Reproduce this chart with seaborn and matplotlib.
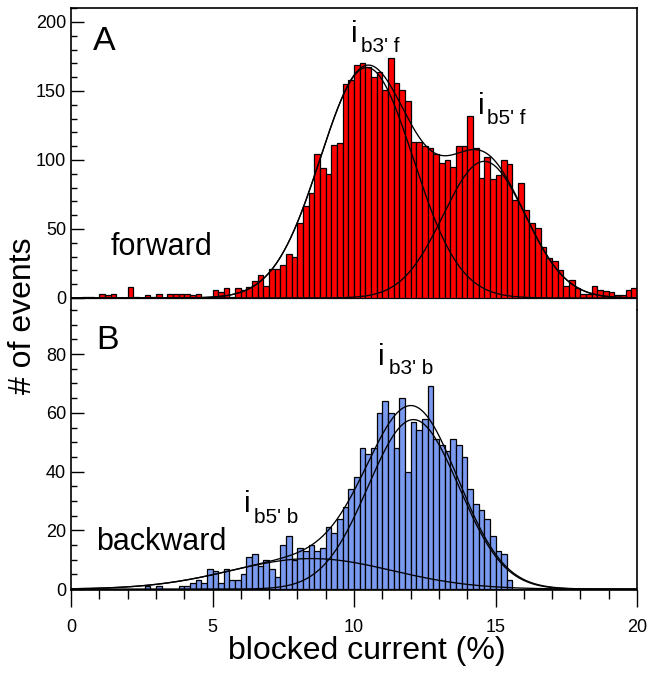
import numpy as np
import pandas as pd
import matplotlib
matplotlib.use("Agg")
import matplotlib.pyplot as plt
import seaborn as sns
from matplotlib.ticker import MultipleLocator

# ---------------- data ----------------
bin_width = 0.2
bin_left = [round(i * bin_width, 1) for i in range(100)]

forward_counts = [
    0, 0, 1, 1, 0, 3, 2, 3, 0, 0,          # 0.0 - 1.8
    8, 1, 0, 2, 1, 3, 0, 3, 3, 3,          # 2.0 - 3.8
    3, 2, 3, 0, 1, 6, 4, 7, 1, 7,          # 4.0 - 5.8
    6, 8, 12, 17, 9, 21, 21, 24, 32, 30,   # 6.0 - 7.8
    54, 67, 76, 104, 94, 90, 111, 112, 155, 158,   # 8.0 - 9.8
    169, 170, 167, 160, 164, 151, 174, 156, 151, 143,  # 10.0 - 11.8
    113, 113, 110, 109, 104, 98, 100, 95, 110, 110,    # 12.0 - 13.8
    132, 109, 87, 102, 86, 89, 100, 97, 71, 83,        # 14.0 - 15.8
    64, 54, 51, 37, 29, 27, 20, 9, 13, 7,              # 16.0 - 17.8
    3, 3, 9, 6, 5, 4, 2, 2, 6, 7,                      # 18.0 - 19.8
]

backward_counts = [
    0, 0, 0, 0, 0, 0, 0, 0, 0, 0,          # 0.0 - 1.8
    0, 0, 0, 1, 0, 1, 0, 0, 0, 1,          # 2.0 - 3.8
    1, 2, 3, 2, 7, 6, 2, 7, 3, 3,          # 4.0 - 5.8
    5, 11, 12, 8, 10, 7, 4, 15, 18, 10,    # 6.0 - 7.8
    14, 13, 15, 13, 14, 21, 19, 24, 28, 34,  # 8.0 - 9.8
    38, 48, 46, 48, 60, 64, 60, 48, 65, 40,  # 10.0 - 11.8
    57, 54, 58, 69, 51, 49, 47, 51, 49, 45,  # 12.0 - 13.8
    34, 29, 27, 24, 18, 13, 12, 3, 0, 0,     # 14.0 - 15.8
    0, 0, 0, 0, 0, 0, 0, 0, 0, 0,            # 16.0 - 17.8
    0, 0, 0, 0, 0, 0, 0, 0, 0, 0,            # 18.0 - 19.8
]

# Gaussian fit components (mean, sigma, amplitude)
fit_forward_means = [10.45, 14.6]
fit_forward_sigmas = [1.64, 1.45]
fit_forward_amps = [167.0, 99.0]

fit_backward_means = [12.1, 8.5]
fit_backward_sigmas = [1.6, 2.85]
fit_backward_amps = [57.7, 10.4]

x_ticks = [0, 5, 10, 15, 20]
forward_yticks = [0, 50, 100, 150, 200]
backward_yticks = [0, 20, 40, 60, 80]

# ---------------- style ----------------
sns.set_style("ticks")
plt.rcParams['font.family'] = ['Liberation Sans', 'DejaVu Sans']
for key in ("text.color", "axes.labelcolor", "xtick.color", "ytick.color", "axes.edgecolor"):
    plt.rcParams[key] = "black"

W, H = 648, 675
fig = plt.figure(figsize=(W / 100, H / 100), dpi=100)

left = 71 / W
width = (637 - 71) / W
axA = fig.add_axes([left, (H - 310) / H, width, (310 - 8) / H])
axB = fig.add_axes([left, (H - 590) / H, width, (590 - 310) / H], sharex=axA)

centers = [b + bin_width / 2 for b in bin_left]
x_fit = np.linspace(0, 20, 801)


def gauss(x, m, s, a):
    return a * np.exp(-(x - m) ** 2 / (2 * s ** 2))


def draw_panel(ax, counts, color, means, sigmas, amps):
    df = pd.DataFrame({"x": centers, "w": counts})
    sns.histplot(data=df, x="x", weights="w", binwidth=bin_width, binrange=(0, 20),
                 ax=ax, color=color, edgecolor="black", linewidth=0.9, alpha=1.0)
    comps = [gauss(x_fit, m, s, a) for m, s, a in zip(means, sigmas, amps)]
    total = np.sum(comps, axis=0)
    for c in comps + [total]:
        sns.lineplot(x=x_fit, y=c, ax=ax, color="black", linewidth=0.95)


draw_panel(axA, forward_counts, "#FF0000", fit_forward_means, fit_forward_sigmas, fit_forward_amps)
draw_panel(axB, backward_counts, "#7A9AF0", fit_backward_means, fit_backward_sigmas, fit_backward_amps)

axA.set_xlim(0, 20)
axA.set_ylim(-8.7, 210.1)
axB.set_ylim(-0.3, 95)

for ax in (axA, axB):
    ax.set_ylabel("")
    ax.set_xlabel("")
    for sp in ax.spines.values():
        sp.set_linewidth(1.2)
        sp.set_color("black")
    ax.tick_params(axis="y", which="both", direction="in", left=True, right=False,
                   labelsize=13, width=1.0, colors="black")
    ax.tick_params(axis="y", which="major", length=9.5)
    ax.tick_params(axis="y", which="minor", length=4.5)

axA.spines["bottom"].set_visible(False)
axB.spines["top"].set_visible(False)
axA.tick_params(axis="x", which="both", bottom=False, labelbottom=False, top=False)

axA.set_yticks(forward_yticks)
axA.yaxis.set_minor_locator(MultipleLocator(10))
axB.set_yticks(backward_yticks)
axB.yaxis.set_minor_locator(MultipleLocator(5))

axB.set_xticks(x_ticks)
axB.xaxis.set_minor_locator(MultipleLocator(1))
axB.tick_params(axis="x", which="both", direction="out", labelsize=13, width=1.0, pad=9,
                colors="black")
axB.tick_params(axis="x", which="major", length=12)
axB.tick_params(axis="x", which="minor", length=6.5)

axB.set_xlabel("blocked current (%)", fontsize=23, color="black")
axB.xaxis.set_label_coords(0.522, -0.165)
fig.text(0.012, (675 - 316) / 675, "# of events", rotation=90, fontsize=23,
         ha="left", va="center", color="black")

# panel texts
axA.text(0.78, 180, "A", fontsize=24.5, ha="left", va="baseline")
axA.text(1.41, 31, "forward", fontsize=22, ha="left", va="baseline")
axB.text(0.88, 81.6, "B", fontsize=24.5, ha="left", va="baseline")
axB.text(0.88, 13.3, "backward", fontsize=22, ha="left", va="baseline")

# peak labels
axA.text(9.88, 185.5, "i", fontsize=21.5, ha="left", va="baseline")
axA.text(10.25, 178, "b3' f", fontsize=15, ha="left", va="baseline")
axA.text(14.39, 133, "i", fontsize=21.5, ha="left", va="baseline")
axA.text(14.71, 126, "b5' f", fontsize=15, ha="left", va="baseline")
axB.text(10.86, 76.2, "i", fontsize=21.5, ha="left", va="baseline")
axB.text(11.25, 73.1, "b3' b", fontsize=15, ha="left", va="baseline")
axB.text(6.10, 26.2, "i", fontsize=21.5, ha="left", va="baseline")
axB.text(6.46, 22.4, "b5' b", fontsize=15, ha="left", va="baseline")

fig.savefig("out.png", dpi=100)
